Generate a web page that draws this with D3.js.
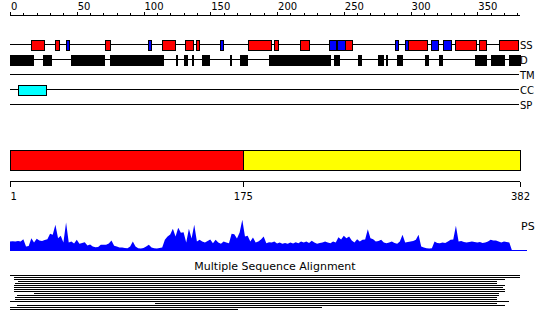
<!DOCTYPE html>
<html><head><meta charset="utf-8">
<script src="https://cdn.jsdelivr.net/npm/d3@7"></script>
<style>body{margin:0;background:#fff}svg{display:block}text{font-family:"DejaVu Sans",sans-serif;fill:#000}</style>
</head><body>
<svg id="c" width="550" height="331"></svg>
<script>
const seqLength = 382;
const topTicks = d3.range(0, 381, 10);
const topLabels = [0, 50, 100, 150, 200, 250, 300, 350];
const trackNames = ["SS", "D", "TM", "CC", "SP"];
const helices = [[16,26],[34,37],[71,75],[114,124],[131,137],[139,141],[178,195],[198,201],[217,224],[251,256],[298,312],[333,349],[351,356],[366,380]];
const strands = [[42,44],[103,105],[157,159],[239,244],[245,251],[288,290],[296,298],[315,320],[324,330]];
const disorder = [[0,17],[25,31],[46,71],[75,77],[78,98],[99,115],[124,125],[130,132],[136,137],[144,149],[165,166],[172,177],[194,240],[243,247],[261,263],[276,280],[282,283],[290,294],[311,313],[321,323],[348,353],[354,356],[360,370],[374,382]];
const transmembrane = [];
const coiledCoil = [[6,27]];
const signalPeptide = [];
const domainBounds = [1, 175, 382];
const domainColors = ["#ff0000", "#ffff00"];
const psStep = 2;
const psScores = [9,9.3,9,9.5,9,11.3,4,4.5,12.3,8,11.7,10,9.5,10.5,11.3,16.7,15.7,25.7,12.3,14.7,
  8,28,8,9,7,10.7,6.7,7.5,8.3,5,6,4,3.3,3.5,5.7,5.7,5.7,7,10,4.7,
  4,3,3,2.5,2.3,4,9,4,2.3,2,2.5,4,5.7,3,2.3,2,2.5,3,10.7,14,
  16,21.7,14,22.7,17.7,18.3,8,21.7,12,25.7,9,10.7,9,8,9.5,11,7.3,10.7,8,6.7,
  9,8,7.3,16.7,16.3,12,18,30.7,14,14.7,9,13,8,9,11,14,7.3,8.3,8,9,
  7,8,6.7,7.5,6.7,8,7,8.3,7.3,9,8,9,7.5,9.7,8,6.7,7.5,8,9,8,
  7.3,9,8,13.3,11,14.7,12.3,14,10,8,11.3,9,10.7,11,21.3,12.3,11.3,9,9.5,10.7,
  8,7.3,8,9,7.5,6.7,9,15.7,8,8.5,9,9.5,10.7,15.7,4,3,2.3,2,2.3,9,
  7.5,7.3,8,7.5,9,10.7,11,24.7,9,9.5,8.5,8,8.5,9,8.5,8,8.5,7.5,8,9,
  10.7,10,10,9,8,9,8.5,8,0];
const msaRows = [[1,382],[4,382],[4,371],[7,365],[5,365],[4,371],[4,369],[4,371],[4,371],[19,366],
  [6,366],[5,365],[5,365],[1,374],[109,365],[6,371],[1,234],[1,171]];

const svg = d3.select("#c");
const x = d3.scaleLinear().domain([0, seqLength]).range([10, 520]);
const xd = d3.scaleLinear().domain([1, seqLength]).range([10, 520]);

// top ruler
const topAxis = svg.append("g").attr("transform", "translate(0,15.5)")
  .call(d3.axisTop(x).tickValues(topTicks).tickSize(3).tickFormat(d => topLabels.includes(d) ? d : ""));
topAxis.select(".domain").attr("d", `M${x(0)},0H${x(seqLength)}`).attr("stroke", "#000");
topAxis.selectAll(".tick line").attr("stroke", "#000").attr("y1", 0.5).attr("y2", d => topLabels.includes(d) ? -3.5 : -2.5);
topAxis.selectAll(".tick text").attr("text-anchor", "start").attr("x", 0.5).attr("y", -5.5).attr("dy", 0)
  .style("font-family", "DejaVu Sans").style("font-size", "10px").attr("fill", "#000");
topAxis.attr("shape-rendering", "crispEdges");

// feature tracks
const trackY = d3.scalePoint().domain(trackNames).range([44.5, 104.5]);
const tracks = svg.append("g").attr("shape-rendering", "crispEdges");
trackNames.forEach(n => {
  tracks.append("line").attr("x1", x(0)).attr("x2", 519).attr("y1", trackY(n)).attr("y2", trackY(n)).attr("stroke", "#000");
  svg.append("text").attr("x", 520).attr("y", trackY(n) + 4).style("font-size", "10px").text(n);
});
function boxes(data, track, fill) {
  tracks.selectAll(null).data(data).join("rect")
    .attr("x", d => Math.round(x(d[0])) + 0.5).attr("width", d => Math.max(1, Math.round(x(d[1]) - x(d[0]))))
    .attr("y", trackY(track) - 4.5).attr("height", 10)
    .attr("fill", fill).attr("stroke", "#000");
}
boxes(helices, "SS", "#ff0000");
boxes(strands, "SS", "#0000ff");
boxes(disorder, "D", "#000000");
boxes(transmembrane, "TM", "#ffff00");
boxes(coiledCoil, "CC", "#00ffff");
boxes(signalPeptide, "SP", "#00ff00");

// domain bar
const domains = d3.pairs(domainBounds);
svg.append("g").attr("shape-rendering", "crispEdges").selectAll("rect").data(domains).join("rect")
  .attr("x", d => Math.round(xd(d[0])) + 0.5).attr("width", d => Math.round(xd(d[1]) - xd(d[0])))
  .attr("y", 150.5).attr("height", 20)
  .attr("fill", (d, i) => domainColors[i]).attr("stroke", "#000");

const botAxis = svg.append("g").attr("transform", "translate(0,181.5)")
  .call(d3.axisBottom(xd).tickValues(domainBounds).tickSize(5).tickFormat(d3.format("d")));
botAxis.attr("shape-rendering", "crispEdges");
botAxis.select(".domain").attr("d", `M${xd(1)},0H${xd(seqLength)}`).attr("stroke", "#000");
botAxis.selectAll(".tick line").attr("stroke", "#000");
botAxis.selectAll(".tick text").attr("y", 18).attr("dy", 0).style("font-family", "DejaVu Sans").style("font-size", "10px")
  .attr("fill", "#000").attr("text-anchor", (d, i) => i === 0 ? "start" : "middle");

// PS profile
const yPs = d3.scaleLinear().domain([0, 40]).range([250.5, 210.5]);
const psData = psScores.map((v, i) => [i * psStep, v]);
psData.unshift([0, 0]);
svg.append("path").datum(psData)
  .attr("d", d3.area().x(d => x(d[0])).y0(yPs(0)).y1(d => yPs(d[1])))
  .attr("fill", "#0000ff");
svg.append("line").attr("x1", x(0)).attr("x2", 527).attr("y1", 250.5).attr("y2", 250.5).attr("stroke", "#0000ff").attr("shape-rendering", "crispEdges");
svg.append("text").attr("x", 521).attr("y", 230).style("font-size", "11px").text("PS");

// MSA
svg.append("text").attr("x", 275).attr("y", 270).attr("text-anchor", "middle").style("font-size", "11px").text("Multiple Sequence Alignment");
svg.append("g").attr("shape-rendering", "crispEdges").selectAll("line").data(msaRows).join("line")
  .attr("x1", d => xd(d[0])).attr("x2", d => xd(d[1]))
  .attr("y1", (d, i) => 275.5 + 2 * i).attr("y2", (d, i) => 275.5 + 2 * i)
  .attr("stroke", "#000");
</script>
</body></html>
